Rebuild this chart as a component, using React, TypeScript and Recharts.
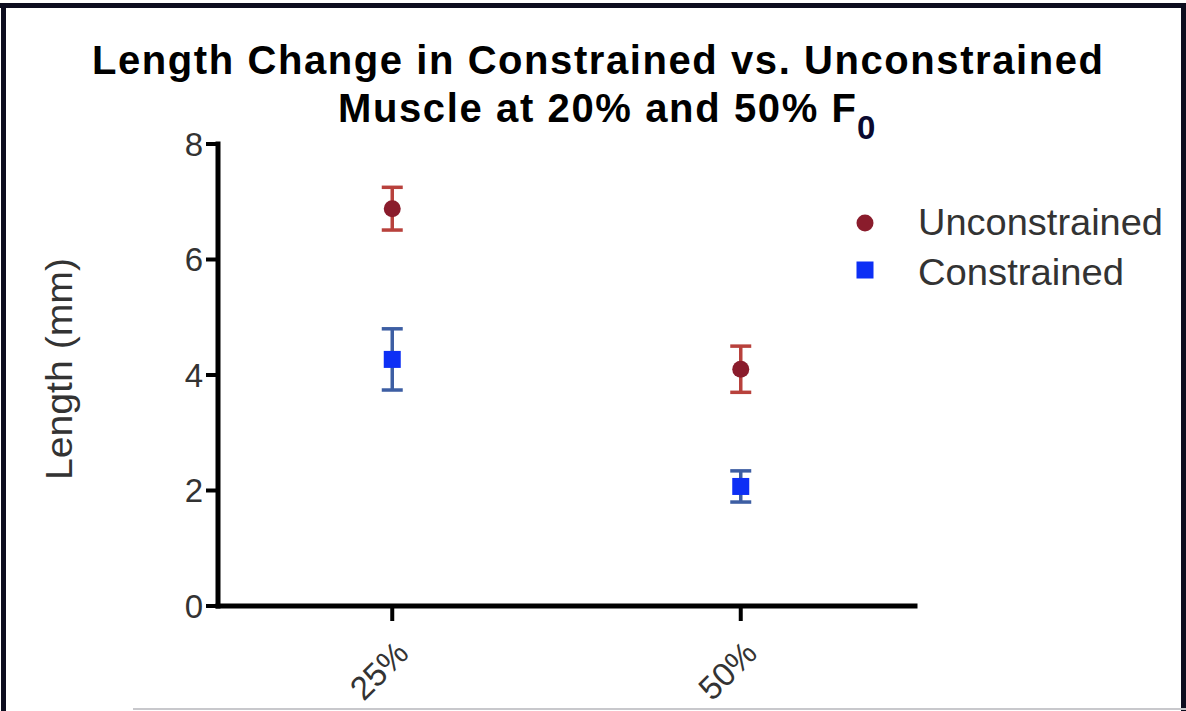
import React from 'react';
import { ScatterChart, Scatter, XAxis, YAxis, ErrorBar } from 'recharts';

const categories = ['25%', '50%'];
const categoryPositions = [1, 3];
const unconstrainedMeans = [6.88, 4.1];
const unconstrainedErrors = [0.37, 0.4];
const constrainedMeans = [4.27, 2.07];
const constrainedErrors = [0.53, 0.27];
const yTicks = [0, 2, 4, 6, 8];

const unconstrainedData = categories.map((c, i) => ({
  x: categoryPositions[i],
  y: unconstrainedMeans[i],
  err: unconstrainedErrors[i],
  label: c,
}));
const constrainedData = categories.map((c, i) => ({
  x: categoryPositions[i],
  y: constrainedMeans[i],
  err: constrainedErrors[i],
  label: c,
}));

const FONT = '"Liberation Sans", Arial, Helvetica, sans-serif';
const DOT_RED = '#8a1c2c';
const ERR_RED = '#b8413c';
const SQ_BLUE = '#0d2ff5';
const ERR_BLUE = '#3d5ea3';

const tickLabel = (v: number) => {
  const i = categoryPositions.indexOf(v);
  return i >= 0 ? categories[i] : '';
};

const XTick = (props: any) => {
  const { x, y, payload } = props;
  return (
    <g transform={`translate(${x + 10},${y + 24})`}>
      <text
        transform="rotate(-45)"
        textAnchor="end"
        dy="0.35em"
        fontFamily={FONT}
        fontSize={33}
        fill="#333"
      >
        {tickLabel(payload.value)}
      </text>
    </g>
  );
};

const Circle = (props: any) => (
  <circle cx={props.cx} cy={props.cy} r={8.5} fill={DOT_RED} />
);
const Square = (props: any) => (
  <rect x={props.cx - 8.5} y={props.cy - 8.5} width={17} height={17} fill={SQ_BLUE} />
);

export default function App() {
  return (
    <div style={{ position: 'absolute', left: 0, top: 0, width: 1186, height: 711, background: '#fff', overflow: 'hidden' }}>
      <ScatterChart
        width={1186}
        height={711}
        margin={{ top: 144, right: 271, bottom: 0, left: 0 }}
      >
        <XAxis
          type="number"
          dataKey="x"
          domain={[0, 4]}
          ticks={categoryPositions}
          tick={<XTick />}
          tickSize={15}
          height={105}
          axisLine={{ stroke: '#000', strokeWidth: 5, strokeLinecap: 'square' }}
          tickLine={{ stroke: '#000', strokeWidth: 4 }}
          interval={0}
        />
        <YAxis
          type="number"
          dataKey="y"
          domain={[0, 8]}
          ticks={yTicks}
          width={218}
          tickSize={12}
          tickMargin={3}
          tick={{ fontFamily: FONT, fontSize: 33, fill: '#333' }}
          axisLine={{ stroke: '#000', strokeWidth: 5, strokeLinecap: 'square' }}
          tickLine={{ stroke: '#000', strokeWidth: 4 }}
          interval={0}
        />
        <Scatter
          name="Unconstrained"
          data={unconstrainedData}
          shape={<Circle />}
          isAnimationActive={false}
        >
          <ErrorBar dataKey="err" direction="y" width={10.5} stroke={ERR_RED} strokeWidth={3.5} />
        </Scatter>
        <Scatter
          name="Constrained"
          data={constrainedData}
          shape={<Square />}
          isAnimationActive={false}
        >
          <ErrorBar dataKey="err" direction="y" width={10.5} stroke={ERR_BLUE} strokeWidth={3.5} />
        </Scatter>
      </ScatterChart>
      <svg
        width={1186}
        height={711}
        style={{ position: 'absolute', left: 0, top: 0, pointerEvents: 'none' }}
      >
        {/* frame */}
        <rect x={0} y={3} width={1186} height={5} fill="#0d0d1f" />
        <rect x={1} y={3} width={5} height={708} fill="#0d0d1f" />
        <rect x={1181} y={3} width={5} height={708} fill="#0d0d1f" />
        <rect x={133} y={708} width={1053} height={2} fill="#c8c8cc" />
        {/* title */}
        <text
          x={92}
          y={74}
          textLength={1011}
          lengthAdjust="spacing"
          fontFamily={FONT}
          fontWeight="bold"
          fontSize={40}
          fill="#000"
        >
          Length Change in Constrained vs. Unconstrained
        </text>
        <text
          x={338}
          y={122}
          textLength={518}
          lengthAdjust="spacing"
          fontFamily={FONT}
          fontWeight="bold"
          fontSize={40}
          fill="#000"
        >
          Muscle at 20%  and 50%  F
        </text>
        <text x={857} y={139} fontFamily={FONT} fontWeight="bold" fontSize={33} fill="#0a0a30">
          0
        </text>
        {/* y axis label */}
        <text
          transform="translate(72,369) rotate(-90)"
          textAnchor="middle"
          textLength={222}
          lengthAdjust="spacingAndGlyphs"
          fontFamily={FONT}
          fontSize={37}
          fill="#333"
        >
          Length (mm)
        </text>
        {/* legend */}
        <circle cx={865} cy={223} r={8.5} fill={DOT_RED} />
        <text
          x={918}
          y={222}
          dy="0.35em"
          textLength={245}
          lengthAdjust="spacingAndGlyphs"
          fontFamily={FONT}
          fontSize={37}
          fill="#333"
        >
          Unconstrained
        </text>
        <rect x={856.5} y={261.5} width={17} height={17} fill={SQ_BLUE} />
        <text
          x={918}
          y={272}
          dy="0.35em"
          textLength={206}
          lengthAdjust="spacingAndGlyphs"
          fontFamily={FONT}
          fontSize={37}
          fill="#333"
        >
          Constrained
        </text>
      </svg>
    </div>
  );
}
